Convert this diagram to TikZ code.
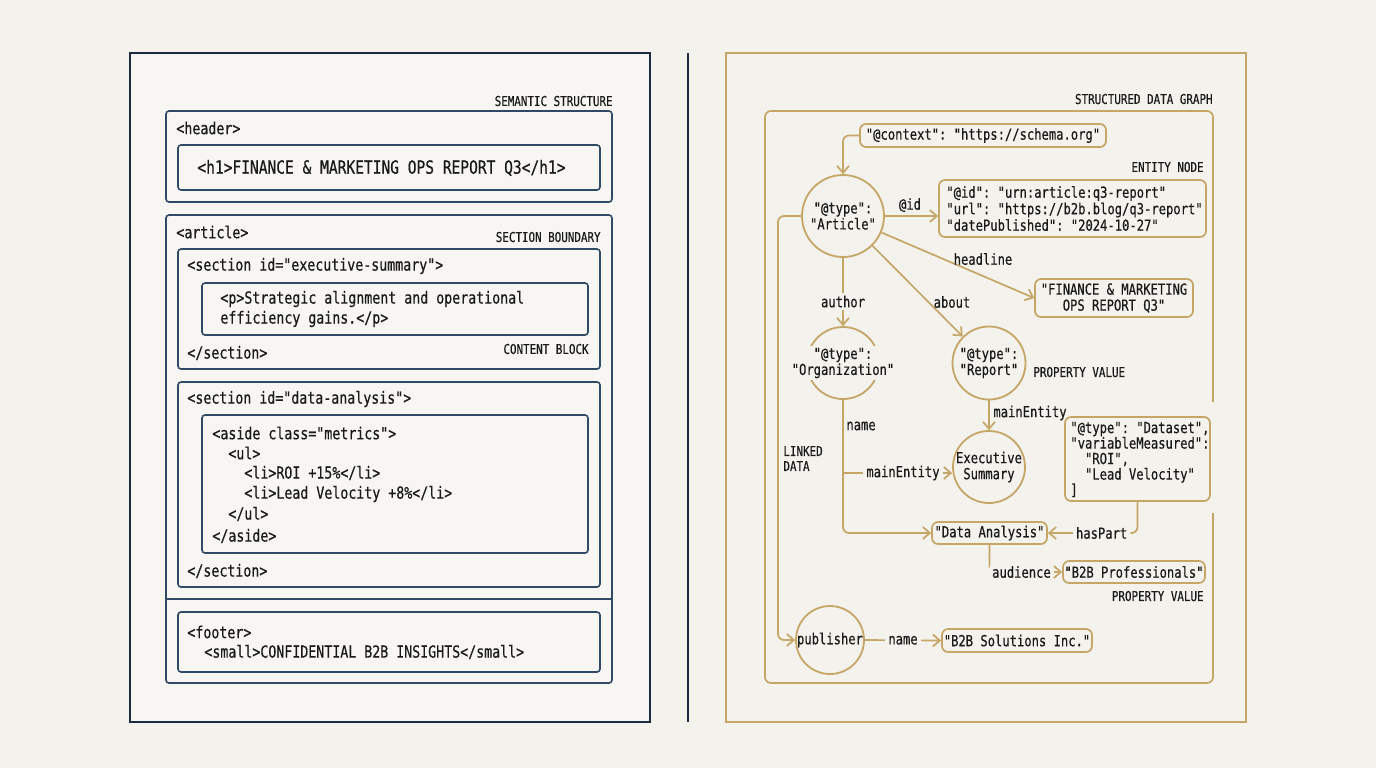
\documentclass[tikz,border=0pt]{standalone}
\usepackage{fontspec}
\setmonofont{DejaVu Sans Mono}[FakeStretch=0.8,FakeBold=0.5]
\usetikzlibrary{arrows.meta,fit}
\definecolor{bg}{HTML}{F4F2EC}
\definecolor{lpan}{HTML}{F7F6F2}
\definecolor{navy}{HTML}{1B2A40}
\definecolor{steel}{HTML}{2F4A65}
\definecolor{gold}{HTML}{C6A667}
\definecolor{ink}{HTML}{1A1A1A}
\begin{document}
\begin{tikzpicture}[x=0.5pt,y=-0.5pt,
  lbox/.style={draw=steel,line width=0.8pt,rounded corners=1.5pt,inner sep=0pt},
  gbox/.style={draw=gold,line width=0.85pt,rounded corners=3pt,inner sep=0pt,fill=bg},
  gcirc/.style={draw=gold,line width=0.9pt,circle,inner sep=0pt},
  ltxt/.style={font=\ttfamily\fontsize{8.3}{10}\selectfont,text=ink,anchor=west,inner sep=0pt},
  htxt/.style={font=\ttfamily\fontsize{9.1}{10}\selectfont,text=ink,anchor=west,inner sep=0pt},
  rtxt/.style={font=\ttfamily\fontsize{7.6}{8}\selectfont,text=ink,inner sep=0pt},
  tagtxt/.style={font=\ttfamily\fontsize{6.8}{7.5}\selectfont,text=ink,inner sep=0pt},
  elab/.style={rtxt,fill=bg,inner sep=1.5pt},
  garrow/.style={draw=gold,line width=0.85pt,-{Straight Barb[length=3.5pt,width=6pt]}},
  gline/.style={draw=gold,line width=0.85pt}]
\useasboundingbox (0,0) rectangle (1376,768);
\fill[bg] (0,0) rectangle (1376,768);

% ---------- LEFT PANEL ----------
\node[draw=navy,line width=1.1pt,fill=lpan,inner sep=0pt,fit={(130,53)(650,722)}] (lpanel) {};
\coordinate (dtop) at (688,53);
\coordinate (dbot) at (688,722);
\draw[navy,line width=1.1pt] (dtop) -- (dbot);
\node[tagtxt,anchor=east] (semtag) at (613,101) {SEMANTIC STRUCTURE};

\node[lbox,fit={(166,111)(612,202)}] (header) {};
\node[ltxt] (headertxt) at (176,128) {<header>};
\node[lbox,fit={(178,145)(600,190)}] (h1box) {};
\node[htxt] (h1txt) at (197,168) {<h1>FINANCE \& MARKETING OPS REPORT Q3</h1>};

\node[lbox,fit={(166,215)(612,683)}] (article) {};
\node[ltxt] (articletxt) at (176,232) {<article>};
\node[tagtxt,anchor=east] (sectag) at (601,237) {SECTION BOUNDARY};
\coordinate (divy) at (0,599);
\draw[steel,line width=0.8pt] (article.west |- divy) -- (article.east |- divy);

\node[lbox,fit={(178,249)(600,369)}] (sec1) {};
\node[ltxt] (sec1open) at (187,266) {<section id="executive-summary">};
\node[lbox,fit={(202,283)(588,335)}] (pbox) {};
\node[ltxt] (pline1) at (220,299) {<p>Strategic alignment and operational};
\node[ltxt] (pline2) at (220,319) {efficiency gains.</p>};
\node[ltxt] (sec1close) at (187,353) {</section>};
\node[tagtxt,anchor=east] (cbtag) at (589,349) {CONTENT BLOCK};

\node[lbox,fit={(178,382)(600,587)}] (sec2) {};
\node[ltxt] (sec2open) at (187,399) {<section id="data-analysis">};
\node[lbox,fit={(202,415)(588,553)}] (asidebox) {};
\node[ltxt] (a1) at (212,433) {<aside class="metrics">};
\node[ltxt] (a2) at (228,453) {<ul>};
\node[ltxt] (a3) at (244,473) {<li>ROI +15\%</li>};
\node[ltxt] (a4) at (244,494) {<li>Lead Velocity +8\%</li>};
\node[ltxt] (a5) at (228,514) {</ul>};
\node[ltxt] (a6) at (212,536) {</aside>};
\node[ltxt] (sec2close) at (187,571) {</section>};

\node[lbox,fit={(178,612)(600,672)}] (footer) {};
\node[ltxt] (f1) at (187,632) {<footer>};
\node[ltxt] (f2) at (204,652) {<small>CONFIDENTIAL B2B INSIGHTS</small>};

% ---------- RIGHT PANEL ----------
\node[draw=gold,line width=1.1pt,inner sep=0pt,fit={(726,53)(1246,722)}] (rpanel) {};
\node[tagtxt,anchor=east] (sdgtag) at (1213,99) {STRUCTURED DATA GRAPH};
\draw[gline,rounded corners=3pt] (1213,402) -- (1213,111) -- (765,111) -- (765,683) -- (1213,683) -- (1213,513);

\node[gbox,fit={(860,124)(1106,147)}] (ctx) {};
\node[rtxt] (ctxtxt) at (ctx.center) {"@context": "https://schema.org"};

\node[gcirc,minimum size=41pt] (art) at (843,216) {};
\node[rtxt,align=center] (arttxt) at (art.center) {"@type":\\"Article"};

\node[tagtxt,anchor=east] (entag) at (1204,167) {ENTITY NODE};
\node[gbox,fit={(939,180)(1206,237)}] (idb) {};
\node[rtxt,anchor=west,align=left,font=\ttfamily\fontsize{7.6}{8.25}\selectfont] (idtxt) at (946,208.5)
  {"@id": "urn:article:q3-report"\\"url": "https://b2b.blog/q3-report"\\"datePublished": "2024-10-27"};

\node[gbox,fit={(1035,279)(1193,317)}] (hl) {};
\node[rtxt,align=center] (hltxt) at (hl.center) {"FINANCE \& MARKETING\\OPS REPORT Q3"};

\node[gcirc,minimum size=36pt] (org) at (843,363) {};
\node[rtxt,align=center,fill=bg,inner sep=1pt] (orgtxt) at (org.center) {"@type":\\"Organization"};

\node[gcirc,minimum size=36.5pt] (rep) at (989,363) {};
\node[rtxt,align=center] (reptxt) at (rep.center) {"@type":\\"Report"};
\node[tagtxt,anchor=west] (pvtag1) at (1033,372) {PROPERTY VALUE};

\node[gcirc,minimum size=36pt] (exe) at (989,467) {};
\node[rtxt,align=center] (exetxt) at (exe.center) {Executive\\Summary};

\node[gbox,fit={(1065,417)(1210,501)}] (ds) {};
\node[rtxt,anchor=west,align=left,font=\ttfamily\fontsize{7.6}{7.75}\selectfont] (dstxt) at (1070,459.5)
  {"@type": "Dataset",\\"variableMeasured":\\\hphantom{xx}"ROI",\\\hphantom{xx}"Lead Velocity"\\]};

\node[gbox,fit={(932,522)(1047,544)}] (da) {};
\node[rtxt] (datxt) at (da.center) {"Data Analysis"};

\node[gbox,fit={(1063,561)(1205,583)}] (b2bp) {};
\node[rtxt] (b2bptxt) at (b2bp.center) {"B2B Professionals"};
\node[tagtxt,anchor=east] (pvtag2) at (1204,596) {PROPERTY VALUE};

\node[gcirc,minimum size=34pt] (pub) at (830,640) {};
\node[rtxt] (pubtxt) at (pub.center) {publisher};

\node[gbox,fit={(942,629)(1092,652)}] (b2bs) {};
\node[rtxt] (b2bstxt) at (b2bs.center) {"B2B Solutions Inc."};

\node[tagtxt,anchor=west,align=left] (ldtag) at (783,458.5) {LINKED\\DATA};

% ---------- CONNECTORS ----------
\draw[garrow,rounded corners=3pt] (ctx.west) -| (art.north);
\draw[garrow] (art.east) -- (art.east -| idb.west);
\node[rtxt] (idlab) at (910,205) {@id};
\draw[garrow] (art) -- (hl.west);
\node[rtxt] (hllab) at (983,259) {headline};
\draw[garrow] (art) -- (rep);
\node[rtxt] (aboutlab) at (952,302) {about};
\draw[garrow] (art) -- (org) node[elab,pos=0.64] (authlab) {author};

\draw[garrow,rounded corners=3pt] (org.south) |- (da.west);
\node[rtxt,anchor=west] (namelab1) at (846,426) {name};
\coordinate (br) at (843,473);
\draw[garrow] (br) -- (br -| exe.west) node[elab,pos=0.55] (melab1) {mainEntity};

\draw[garrow] (rep) -- (exe);
\node[rtxt,anchor=west] (melab2) at (993,413) {mainEntity};

\draw[garrow,rounded corners=3pt] (ds.south) |- (da.east) node[elab,pos=0.7] (hplab) {hasPart};
\draw[garrow,rounded corners=3pt] (da.south) |- (b2bp.west) node[elab,pos=0.72] (audlab) {audience};

\coordinate (lk) at (778,216);
\draw[garrow,rounded corners=3pt] (art.west) -- (lk) |- (pub.west);
\draw[garrow] (pub.east) -- (b2bs.west) node[elab,midway] (namelab2) {name};
\end{tikzpicture}
\end{document}
